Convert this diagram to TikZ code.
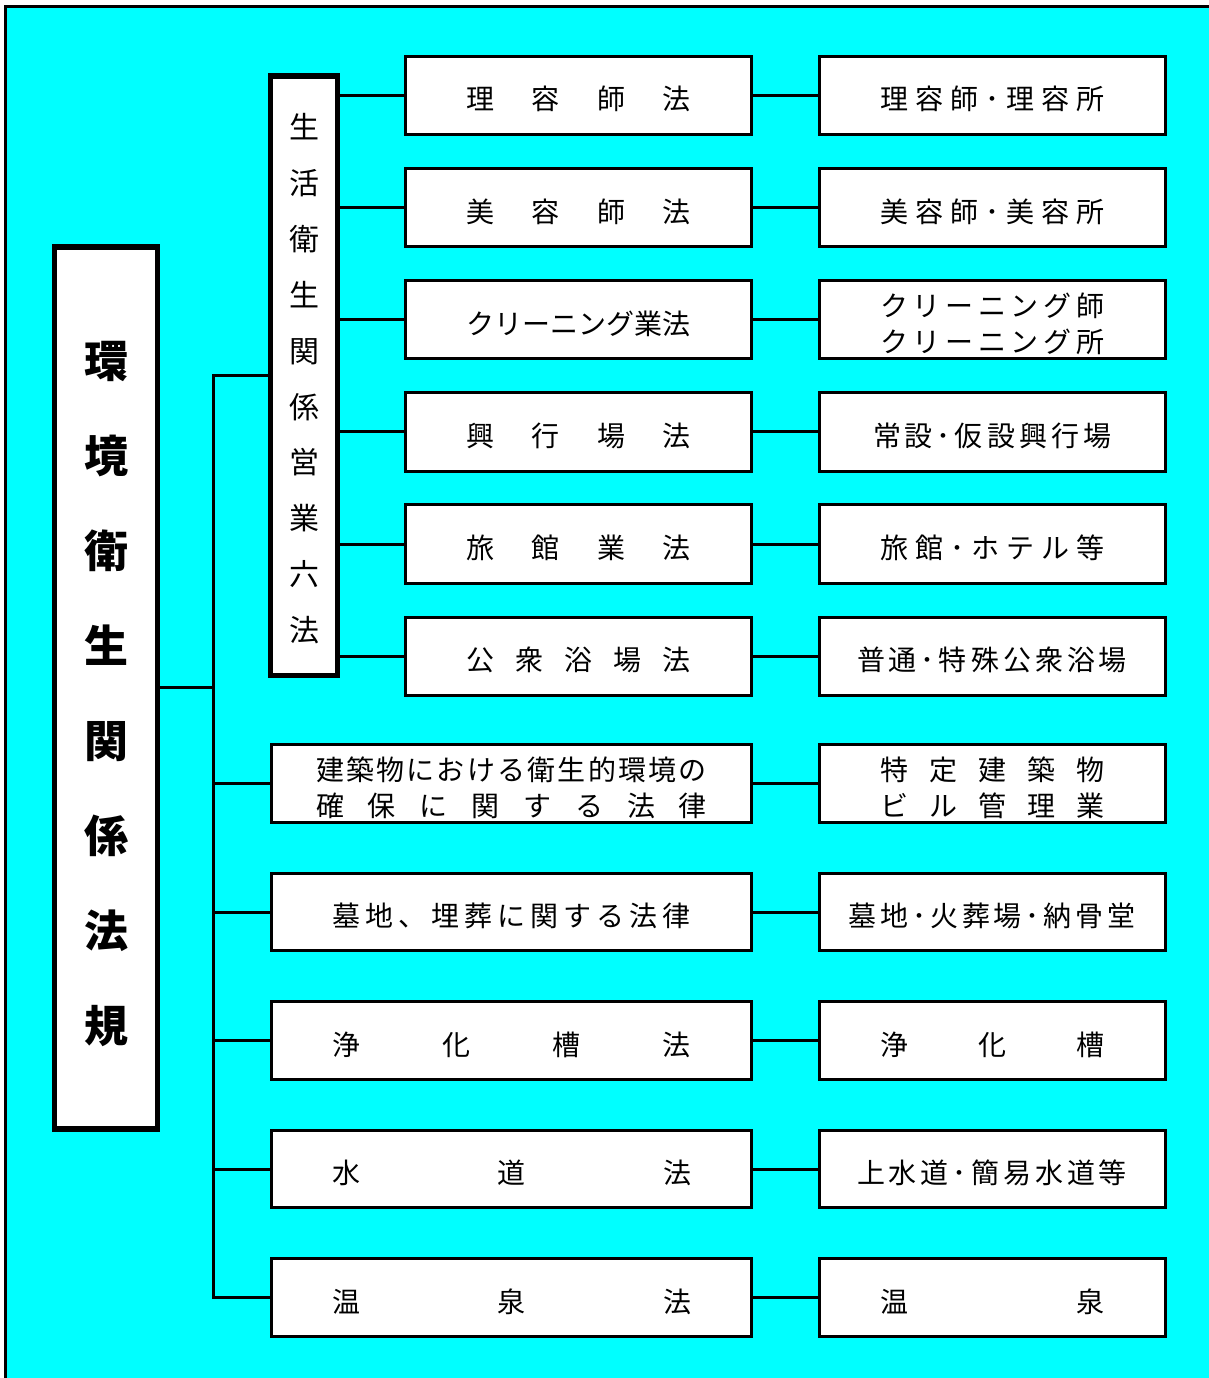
\documentclass[tikz,border=0pt]{standalone}
\usepackage{fontspec}
\setmainfont{Noto Sans CJK JP}
\definecolor{bg}{HTML}{00FFFF}
\newcommand\jspread[2]{\hbox to #1pt{\jsprfirst#2\relax}}
\def\jsprfirst#1{#1\jsprloop}
\def\jsprloop#1{\ifx#1\relax\else\hfil#1\expandafter\jsprloop\fi}
\newcommand\jone[2]{\raisebox{-4pt}[\height][\depth]{\jspread{#1}{#2}}}
\newcommand\jtwo[3]{\raisebox{-4pt}[\height][\depth]{\vbox{\baselineskip=36pt\jspread{#1}{#2}\jspread{#1}{#3}}}}
\begin{document}
\begin{tikzpicture}[x=1pt,y=-1pt,
  tbox/.style={draw, fill=white, line width=3pt, inner sep=0pt, font=\fontsize{28pt}{36pt}\selectfont},
  hA/.style={minimum height=78.5pt},
  hB/.style={minimum height=77.5pt},
  mbox/.style={tbox, hA, minimum width=346pt},
  rbox/.style={tbox, minimum width=346pt},
  wbox/.style={tbox, hB, minimum width=480pt},
  conn/.style={line width=3pt},
  heavybox/.style={draw, fill=white, line width=5.5pt, inner sep=0pt}]
\useasboundingbox (0,0) rectangle (1208,1378);
\draw[line width=3pt, fill=bg] (5.5,7) rectangle (1220,1390);

% main box
\node[heavybox, minimum width=103pt, minimum height=882pt] (main) at (106,688)
  {\raisebox{-5.5pt}[\height][\depth]{\vbox{\bfseries\fontsize{44pt}{95pt}\selectfont
   \hbox{環}\hbox{境}\hbox{衛}\hbox{生}\hbox{関}\hbox{係}\hbox{法}\hbox{規}}}};

% vertical box
\node[heavybox, minimum width=67pt, minimum height=599.5pt] (v) at (304,375.75)
  {\raisebox{-3pt}[\height][\depth]{\vbox{\fontsize{30pt}{55.9pt}\selectfont
   \hbox{生}\hbox{活}\hbox{衛}\hbox{生}\hbox{関}\hbox{係}\hbox{営}\hbox{業}\hbox{六}\hbox{法}}}};

% upper rows
\node[mbox] (m1) at (578.5,95.3) {\jone{224}{理容師法}};
\node[rbox,hA] (r1) at (992,95.3) {\jone{224}{理容師･理容所}};
\node[mbox] (m2) at (578.5,207.5) {\jone{224}{美容師法}};
\node[rbox,hA] (r2) at (992,207.5) {\jone{224}{美容師･美容所}};
\node[mbox] (m3) at (578.5,319.7) {\jone{224}{クリーニング業法}};
\node[rbox,hA] (r3) at (992,319.7) {\jtwo{224}{クリーニング師}{クリーニング所}};
\node[mbox] (m4) at (578.5,431.9) {\jone{224}{興行場法}};
\node[rbox,hA] (r4) at (992,431.9) {\jone{238}{常設･仮設興行場}};
\node[mbox] (m5) at (578.5,544.1) {\jone{224}{旅館業法}};
\node[rbox,hA] (r5) at (992,544.1) {\jone{224}{旅館･ホテル等}};
\node[mbox] (m6) at (578.5,656.3) {\jone{224}{公衆浴場法}};
\node[rbox,hA] (r6) at (992,656.3) {\jone{270}{普通･特殊公衆浴場}};

% lower rows
\node[wbox] (w7) at (511.5,783.5) {\jtwo{391}{建築物における衛生的環境の}{確保に関する法律}};
\node[rbox,hB] (r7) at (992,783.5) {\jtwo{224}{特定建築物}{ビル管理業}};
\node[wbox] (w8) at (511.5,912) {\jone{359}{墓地、埋葬に関する法律}};
\node[rbox,hB] (r8) at (992,912) {\jone{287}{墓地･火葬場･納骨堂}};
\node[wbox] (w9) at (511.5,1040.5) {\jone{359}{浄化槽法}};
\node[rbox,hB] (r9) at (992,1040.5) {\jone{224}{浄化槽}};
\node[wbox] (w10) at (511.5,1169) {\jone{359}{水道法}};
\node[rbox,hB] (r10) at (992,1169) {\jone{270}{上水道･簡易水道等}};
\node[wbox] (w11) at (511.5,1297.5) {\jone{359}{温泉法}};
\node[rbox,hB] (r11) at (992,1297.5) {\jone{224}{温泉}};

% connectors
\coordinate (tt) at (213.5,375.7);
\coordinate (tm) at (213.5,687);
\draw[conn] (v.west |- tt) -- (tt) -- (tt |- w11.west) -- (w11.west);
\draw[conn] (main.east |- tm) -- (tm);
\foreach \i in {1,...,6} {
  \draw[conn] (m\i.west -| v.east) -- (m\i.west);
  \draw[conn] (m\i.east) -- (r\i.west);
}
\foreach \i in {7,...,10} {
  \draw[conn] (w\i.west -| tt) -- (w\i.west);
}
\foreach \i in {7,...,11} {
  \draw[conn] (w\i.east) -- (r\i.west);
}
\end{tikzpicture}
\end{document}
